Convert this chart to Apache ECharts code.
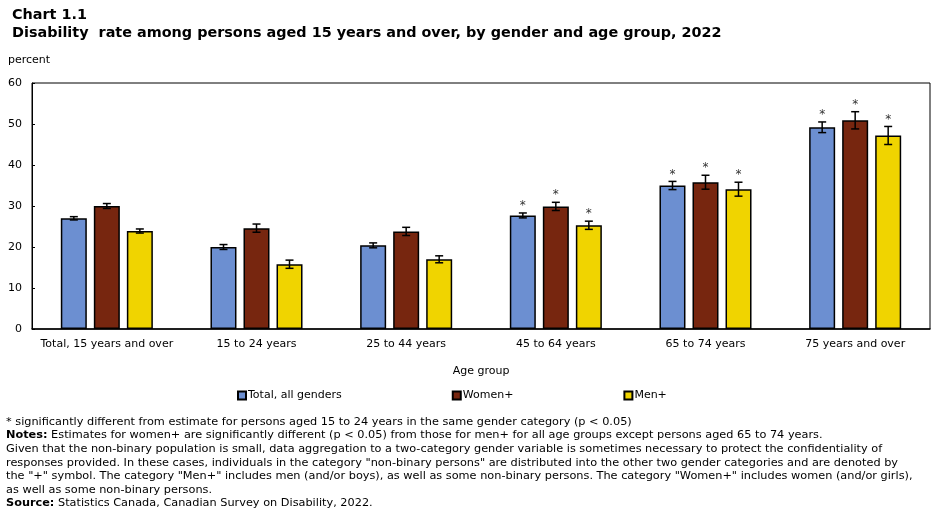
<!DOCTYPE html>
<html>
<head>
<meta charset="utf-8">
<script src="https://cdn.jsdelivr.net/npm/echarts@6/dist/echarts.min.js"></script>
<style>
  html, body { margin: 0; padding: 0; background: #fff; }
  #chart { width: 945px; height: 511px; }
</style>
</head>
<body>
<div id="chart"></div>
<script>
// Age groups on the x axis
const categories = ['Total, 15 years and over', '15 to 24 years', '25 to 44 years',
  '45 to 64 years', '65 to 74 years', '75 years and over'];

// Disability rate (percent) and half-width of the confidence interval
const totalValues = [27.0, 20.0, 20.4, 27.7, 35.0, 49.2];
const totalErr = [0.4, 0.6, 0.6, 0.6, 1.0, 1.3];
const womenValues = [30.0, 24.6, 23.8, 29.9, 35.8, 50.9];
const womenErr = [0.6, 1.0, 1.0, 1.0, 1.7, 2.1];
const menValues = [23.9, 15.8, 17.0, 25.3, 34.1, 47.2];
const menErr = [0.5, 1.0, 0.85, 1.0, 1.7, 2.2];

// 1 = significantly different from 15 to 24 years (shown with *)
const totalSig = [0, 0, 0, 1, 1, 1];
const womenSig = [0, 0, 0, 1, 1, 1];
const menSig = [0, 0, 0, 1, 1, 1];

const yTicks = [0, 10, 20, 30, 40, 50, 60];

const FONT = 'DejaVu Sans';
const BAR_W = 26;
const BAR_STEP = 33; // bar width + gap

const seriesInfo = [
  { name: 'Total, all genders', values: totalValues, err: totalErr, sig: totalSig, color: '#6C8FD1' },
  { name: 'Women+', values: womenValues, err: womenErr, sig: womenSig, color: '#77260F' },
  { name: 'Men+', values: menValues, err: menErr, sig: menSig, color: '#F0D400' }
];

// Error bars plus significance marker for one series
const errorSeries = (info, idx) => ({
  type: 'custom',
  name: 'err-' + idx,
  z: 10,
  data: info.values.map((v, i) => [i, v, info.err[i], info.sig[i]]),
  renderItem: (params, api) => {
    const cat = api.value(0);
    const v = api.value(1);
    const e = api.value(2);
    const x = api.coord([cat, v])[0] + (idx - 1) * BAR_STEP;
    const hi = api.coord([cat, v + e])[1];
    const lo = api.coord([cat, v - e])[1];
    const lineStyle = { stroke: '#000', lineWidth: 1.5 };
    const children = [
      { type: 'line', shape: { x1: x, y1: hi, x2: x, y2: lo }, style: lineStyle },
      { type: 'line', shape: { x1: x - 4, y1: hi, x2: x + 4, y2: hi }, style: lineStyle },
      { type: 'line', shape: { x1: x - 4, y1: lo, x2: x + 4, y2: lo }, style: lineStyle }
    ];
    if (api.value(3)) {
      children.push({
        type: 'text',
        style: {
          text: '*', x: x, y: hi - 1, align: 'center', verticalAlign: 'bottom',
          fill: '#333', font: '12px ' + FONT
        }
      });
    }
    return { type: 'group', children: children };
  }
});

const chart = echarts.init(document.getElementById('chart'));

const option = {
  animation: false,
  textStyle: { fontFamily: FONT },
  title: {
    text: 'Chart 1.1\nDisability  rate among persons aged 15 years and over, by gender and age group, 2022',
    left: 7,
    top: 1,
    textStyle: { fontFamily: FONT, fontSize: 14.4, fontWeight: 'bold', color: '#000', lineHeight: 18 }
  },
  legend: {
    data: seriesInfo.map(s => s.name),
    left: 232,
    top: 385,
    icon: 'rect',
    itemWidth: 8,
    itemHeight: 8,
    itemGap: 110,
    textStyle: { fontFamily: FONT, fontSize: 11, color: '#000', padding: [0, 0, 0, -3] }
  },
  grid: {
    left: 32, right: 15, top: 83, bottom: 182,
    show: true, borderColor: '#000', borderWidth: 1
  },
  xAxis: {
    type: 'category',
    data: categories,
    name: 'Age group',
    nameLocation: 'middle',
    nameGap: 37,
    nameTextStyle: { fontFamily: FONT, fontSize: 11, color: '#000' },
    axisLine: { lineStyle: { color: '#000', width: 1.5 } },
    axisTick: { show: false },
    axisLabel: { fontFamily: FONT, fontSize: 11, color: '#000', margin: 10, interval: 0 }
  },
  yAxis: {
    type: 'value',
    min: yTicks[0],
    max: yTicks[yTicks.length - 1],
    interval: 10,
    axisLine: { show: true, lineStyle: { color: '#000', width: 1 } },
    axisTick: { show: true, inside: true, length: 3, lineStyle: { color: '#000' } },
    splitLine: { show: false },
    axisLabel: { fontFamily: FONT, fontSize: 11, color: '#000', margin: 10 }
  },
  graphic: [
    {
      type: 'text', left: 8, top: 55,
      style: { text: 'percent', font: '11px ' + FONT, fill: '#000' }
    },
    {
      type: 'text', left: 6, top: 415,
      style: {
        text: [
          '* significantly different from estimate for persons aged 15 to 24 years in the same gender category (p < 0.05)',
          '{b|Notes:} Estimates for women+ are significantly different (p < 0.05) from those for men+ for all age groups except persons aged 65 to 74 years.',
          'Given that the non-binary population is small, data aggregation to a two-category gender variable is sometimes necessary to protect the confidentiality of',
          'responses provided. In these cases, individuals in the category "non-binary persons" are distributed into the other two gender categories and are denoted by',
          'the "+" symbol. The category "Men+" includes men (and/or boys), as well as some non-binary persons. The category "Women+" includes women (and/or girls),',
          'as well as some non-binary persons.',
          '{b|Source:} Statistics Canada, Canadian Survey on Disability, 2022.'
        ].join('\n'),
        font: '11.3px ' + FONT,
        fill: '#000',
        lineHeight: 13.6,
        rich: {
          b: { fontFamily: FONT, fontSize: 11.3, fontWeight: 'bold', fill: '#000', lineHeight: 13.6 }
        }
      }
    }
  ],
  series: [
    ...seriesInfo.map(info => ({
      type: 'bar',
      name: info.name,
      data: info.values,
      barWidth: BAR_W,
      barGap: '27%',
      itemStyle: { color: info.color, borderColor: '#000', borderWidth: 1.5 }
    })),
    ...seriesInfo.map(errorSeries)
  ]
};

chart.setOption(option);
</script>
</body>
</html>
